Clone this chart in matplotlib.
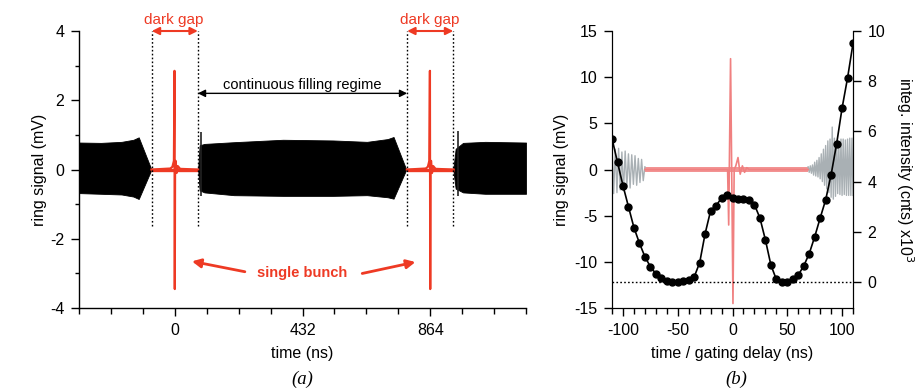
import numpy as np
import matplotlib
matplotlib.use("Agg")
import matplotlib.pyplot as plt

plt.rcParams['font.family'] = ['Liberation Sans', 'DejaVu Sans']
plt.rcParams['axes.unicode_minus'] = False

# ---- panel (a): ring signal over one revolution ----
# black multibunch envelope, three pieces (time ns, upper mV, lower mV)
fill1_t = [-324, -250, -180, -140, -122, -79]
fill1_hi = [0.78, 0.77, 0.80, 0.86, 0.93, 0.0]
fill1_lo = [-0.68, -0.70, -0.72, -0.78, -0.85, 0.0]

fill2_t = [79, 84, 100, 200, 366, 536, 650, 720, 740, 783]
fill2_hi = [0.0, 0.70, 0.74, 0.79, 0.86, 0.84, 0.80, 0.88, 0.94, 0.0]
fill2_lo = [0.0, -0.60, -0.66, -0.74, -0.76, -0.76, -0.74, -0.80, -0.84, 0.0]

fill3_t = [942, 950, 975, 1050, 1188]
fill3_hi = [0.0, 0.60, 0.77, 0.80, 0.78]
fill3_lo = [0.0, -0.55, -0.66, -0.70, -0.70]

# short step at start of each filled train
step_t = [88, 957]
step_hi = [1.08, 1.10]
step_lo = [-0.75, -0.75]

# single bunch trace, offsets around each bunch position
bunch_pos = [0, 864]
bunch_dt = [-79, -15, -8, -3, -1, 0, 1, 3, 6, 10, 18, 79]
bunch_v = [0.0, 0.03, 0.08, 0.25, 2.85, -3.45, 0.20, 0.25, -0.10, 0.10, 0.02, 0.0]

gap_edges = [-78, 78, 786, 942]

# ---- panel (b): zoom + gated intensity ----
delay = np.arange(-110, 111, 5)
intensity = [5.71, 4.77, 3.84, 3.00, 2.17, 1.55, 1.01, 0.61, 0.33, 0.15,
             0.04, 0.00, 0.00, 0.03, 0.08, 0.20, 0.77, 1.93, 2.84, 3.04,
             3.35, 3.46, 3.36, 3.31, 3.31, 3.28, 3.08, 2.55, 1.68, 0.68,
             0.10, 0.01, 0.01, 0.10, 0.28, 0.64, 1.13, 1.80, 2.55, 3.27,
             4.28, 5.50, 6.93, 8.13, 9.51]

grayL_t = np.arange(-110, -79, 1.5)
grayL_v = [2.4, -2.6, 2.2, -2.5, 2.3, -2.2, 1.9, -2.3, 2.0, -1.9, 1.7,
           -2.0, 1.6, -1.6, 1.5, -1.7, 1.2, -1.4, 1.1, -1.2, 0.3]

grayR_t = np.arange(69, 111, 1)
grayR_v = [0.3, -0.3, 0.4, -0.4, 0.5, -0.6, 0.8, -0.7, 1.0, -0.8, 1.3,
           -1.0, 1.7, -1.3, 2.2, -1.7, 2.6, -2.1, 3.1, -2.5, 3.3, -3.0,
           4.6, -3.2, 3.4, -2.9, 3.1, -2.6, 3.0, -2.7, 3.3, -2.8, 3.3,
           -2.7, 3.2, -2.8, 3.3, -2.8, 3.4, -2.8, 3.4, -2.8]

red_t = [-80, -4.5, -3.5, -1.8, -0.6, 0.4, 1.5, 3, 5, 7, 9, 11, 13, 15, 69]
red_v = [0.0, 0.0, -6.0, 12.0, -2.0, -14.5, 0.0, 0.4, 1.3, -0.5, 0.4,
         -0.3, 0.2, 0.0, 0.0]
red_band_t = [-80, 69]

RED = '#ee3a24'
PINK = '#f08080'
GRAY = '#a9b0b4'

fig = plt.figure(figsize=(9.22, 3.9), dpi=100)

# ================= panel (a) =================
ax = fig.add_axes([0.0857, 0.2100, 0.4848, 0.7105])
for t, hi, lo in [(fill1_t, fill1_hi, fill1_lo),
                  (fill2_t, fill2_hi, fill2_lo),
                  (fill3_t, fill3_hi, fill3_lo)]:
    ax.fill_between(t, lo, hi, color='black', lw=0.6, edgecolor='black')
ax.vlines(step_t, step_lo, step_hi, color='#222222', lw=1.2)

for p in bunch_pos:
    ax.plot([p + d for d in bunch_dt], bunch_v, color=RED, lw=1.6)
    ax.plot([p - 79, p + 79], [0, 0], color=RED, lw=2.4, solid_capstyle='butt')

ax.vlines(gap_edges, -1.62, 4.0, colors='black', linestyles=(0, (1.2, 1.6)),
          lw=1.0, clip_on=False)

for c in bunch_pos:
    ax.annotate('', xy=(c - 78, 4.0), xytext=(c + 78, 4.0),
                arrowprops=dict(arrowstyle='<|-|>', color=RED, lw=1.5,
                                mutation_scale=11, shrinkA=0, shrinkB=0),
                annotation_clip=False)
    ax.text(c - 3, 4.32, 'dark gap', color=RED, ha='center', va='center',
            fontsize=11, clip_on=False)

ax.annotate('', xy=(78, 2.2), xytext=(786, 2.2),
            arrowprops=dict(arrowstyle='<|-|>', color='black', lw=1.0,
                            mutation_scale=11, shrinkA=0, shrinkB=0))
ax.text(432, 2.45, 'continuous filling regime', ha='center', va='center',
        fontsize=10.5)

ax.text(432, -3.0, 'single bunch', color=RED, ha='center', va='center',
        fontsize=10.5, fontweight='bold')
ax.annotate('', xy=(58, -2.65), xytext=(237, -2.95),
            arrowprops=dict(arrowstyle='-|>', color=RED, lw=2.0,
                            mutation_scale=13, shrinkA=0, shrinkB=0))
ax.annotate('', xy=(814, -2.67), xytext=(634, -3.0),
            arrowprops=dict(arrowstyle='-|>', color=RED, lw=2.0,
                            mutation_scale=13, shrinkA=0, shrinkB=0))

ax.set_xlim(-324, 1188)
ax.set_ylim(-4, 4)
ax.set_xticks([0, 432, 864])
ax.set_xticks(np.arange(-324, 1189, 108), minor=True)
ax.set_yticks([-4, -2, 0, 2, 4])
ax.set_yticks([-3, -1, 1, 3], minor=True)
for s in ['top', 'right']:
    ax.spines[s].set_visible(False)
for s in ['left', 'bottom']:
    ax.spines[s].set_linewidth(1.0)
ax.tick_params(which='major', direction='out', length=5.5, width=1.0,
               labelsize=11.5, pad=5)
ax.tick_params(which='minor', direction='out', length=4, width=1.0)
ax.tick_params(axis='y', which='minor', length=3)
ax.set_xlabel('time (ns)', fontsize=11.5, labelpad=6)
ax.set_ylabel('ring signal (mV)', fontsize=11.5, labelpad=2)

# ================= panel (b) =================
axb = fig.add_axes([0.6638, 0.2100, 0.2614, 0.7105])
axb.plot(grayL_t, grayL_v, color=GRAY, lw=1.0)
axb.plot(grayR_t, grayR_v, color=GRAY, lw=1.0)
axb.fill_between(red_band_t, [-0.28, -0.28], [0.28, 0.28], color=PINK,
                 alpha=0.85, lw=0)
axb.plot(red_t, red_v, color=PINK, lw=1.2)
axb.set_xlim(-110, 110)
axb.set_ylim(-15, 15)
axb.set_xticks([-100, -50, 0, 50, 100])
axb.set_xticks(np.arange(-110, 111, 10), minor=True)
axb.set_yticks([-15, -10, -5, 0, 5, 10, 15])
axb.spines['top'].set_visible(False)
axb.tick_params(which='major', direction='out', length=5.5, width=1.0,
                labelsize=11.5, pad=5)
axb.tick_params(which='minor', direction='out', length=4, width=1.0)
axb.set_xlabel('time / gating delay (ns)', fontsize=11.5, labelpad=6)
axb.set_ylabel('ring signal (mV)', fontsize=11.5, labelpad=4)

ax2 = axb.twinx()
ax2.axhline(0, color='black', lw=1.0, ls=(0, (1.2, 1.6)))
ax2.plot(delay, intensity, color='black', lw=1.2, marker='o', ms=5)
ax2.set_ylim(-1.04, 10)
ax2.set_yticks([0, 2, 4, 6, 8, 10])
ax2.spines['top'].set_visible(False)
ax2.tick_params(which='major', direction='out', length=5.5, width=1.0,
                labelsize=11.5, pad=5)
ax2.set_ylabel('integ. intensity (cnts) x10$^3$', fontsize=11.5,
               rotation=270, labelpad=22)

fig.text(0.328, 0.005, '(a)', ha='center', va='bottom', fontsize=13.5,
         family='Liberation Serif', style='italic')
fig.text(0.799, 0.005, '(b)', ha='center', va='bottom', fontsize=13.5,
         family='Liberation Serif', style='italic')

fig.savefig('out.png', dpi=100)
